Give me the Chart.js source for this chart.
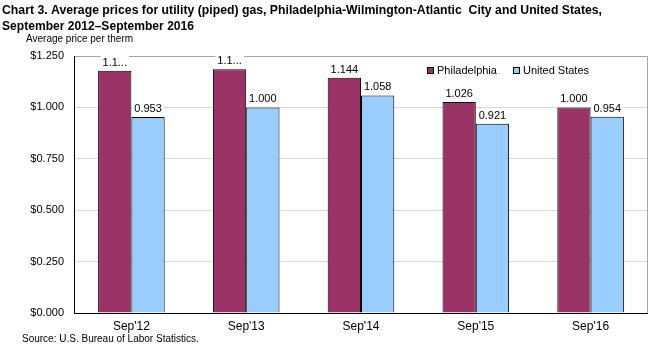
<!DOCTYPE html>
<html>
<head>
<meta charset="utf-8">
<title>Utility (piped) gas prices</title>
<script src="https://cdn.jsdelivr.net/npm/chart.js@4/dist/chart.umd.min.js"></script>
<style>
    html, body { margin: 0; padding: 0; background: #fff; }
    #gasChart { display: block; }
</style>
</head>
<body>
<canvas id="gasChart" width="650" height="348"></canvas>
<script>
const FONT = '"Liberation Sans", Arial, sans-serif';

const titleLines = [
    'Chart 3. Average prices for utility (piped) gas, Philadelphia-Wilmington-Atlantic  City and United States,',
    'September 2012\u2013September 2016'
];
const axisTitle = 'Average price per therm';
const sourceNote = 'Source: U.S. Bureau of Labor Statistics.';

const categories = ["Sep'12", "Sep'13", "Sep'14", "Sep'15", "Sep'16"];
const philadelphia = [1.178, 1.185, 1.144, 1.026, 1.000];
const unitedStates = [0.953, 1.000, 1.058, 0.921, 0.954];
// labels that got cut short on the published chart
const philadelphiaClipped = [0, 1];
const yTicks = [0, 0.25, 0.5, 0.75, 1.0, 1.25];

function valueText(datasetIndex, i, v) {
    const txt = v.toFixed(3);
    if (datasetIndex === 0 && philadelphiaClipped.includes(i)) return txt.slice(0, 3) + '...';
    return txt;
}

// titles, source line, plot frame, bar values and legend
const decorations = {
    id: 'decorations',
    beforeDraw(chart) {
        const ctx = chart.ctx;
        ctx.save();
        ctx.fillStyle = '#fff';
        ctx.fillRect(0, 0, chart.width, chart.height);
        ctx.restore();
    },
    afterDatasetsDraw(chart) {
        const ctx = chart.ctx;
        const area = chart.chartArea;
        ctx.save();

        // frame round the plot area
        ctx.lineWidth = 1;
        ctx.strokeStyle = '#a6a6a6';
        ctx.beginPath();
        ctx.moveTo(area.left, area.top + 0.5);
        ctx.lineTo(area.right - 0.5, area.top + 0.5);
        ctx.lineTo(area.right - 0.5, area.bottom);
        ctx.stroke();
        ctx.strokeStyle = '#000';
        ctx.beginPath();
        ctx.moveTo(area.left + 0.5, area.top);
        ctx.lineTo(area.left + 0.5, area.bottom + 0.5);
        ctx.lineTo(area.right, area.bottom + 0.5);
        ctx.stroke();

        // value labels on a white patch, above each bar
        ctx.font = '11px ' + FONT;
        ctx.textAlign = 'center';
        ctx.textBaseline = 'alphabetic';
        chart.data.datasets.forEach((ds, di) => {
            chart.getDatasetMeta(di).data.forEach((bar, i) => {
                const txt = valueText(di, i, ds.data[i]);
                const w = ctx.measureText(txt).width;
                const base = bar.y - 5;
                ctx.fillStyle = '#fff';
                ctx.fillRect(bar.x - w / 2 - 2, base - 10, w + 4, 12);
                ctx.fillStyle = '#000';
                ctx.fillText(txt, bar.x, base);
            });
        });

        // legend inside the top right of the plot
        const legendX = [427, 513];
        ctx.textAlign = 'left';
        ctx.textBaseline = 'middle';
        ctx.font = '11px ' + FONT;
        chart.data.datasets.forEach((ds, di) => {
            const x = legendX[di];
            const y = area.top + 14;
            ctx.fillStyle = ds.backgroundColor;
            ctx.fillRect(x, y - 3, 6, 6);
            ctx.strokeStyle = '#000';
            ctx.lineWidth = 1;
            ctx.strokeRect(x + 0.5, y - 2.5, 6, 6);
            ctx.fillStyle = '#000';
            ctx.fillText(ds.label, x + 10, y + 0.5);
        });

        // headings and source
        ctx.textBaseline = 'alphabetic';
        ctx.font = 'bold 13px ' + FONT;
        ctx.fillText(titleLines[0], 2, 14, 600);
        ctx.fillText(titleLines[1], 2, 30, 192);
        ctx.font = '10px ' + FONT;
        ctx.fillText(axisTitle, 26, 42);
        ctx.fillText(sourceNote, 22, 342);
        ctx.restore();
    }
};

new Chart(document.getElementById('gasChart'), {
    type: 'bar',
    data: {
        labels: categories,
        datasets: [{
            label: 'Philadelphia',
            data: philadelphia,
            backgroundColor: '#993366',
            borderColor: '#000',
            borderWidth: 1
        }, {
            label: 'United States',
            data: unitedStates,
            backgroundColor: '#99ccff',
            borderColor: '#000',
            borderWidth: 1
        }]
    },
    options: {
        responsive: false,
        animation: false,
        layout: { padding: { top: 56, right: 2, left: 0, bottom: 0 } },
        datasets: { bar: { categoryPercentage: 0.58, barPercentage: 1 } },
        scales: {
            x: {
                grid: { display: false, drawTicks: false },
                border: { display: false },
                ticks: { color: '#000', font: { family: FONT, size: 12 }, padding: 6 },
                afterFit: s => { s.height = 35; }
            },
            y: {
                min: 0,
                max: 1.25,
                afterBuildTicks: s => { s.ticks = yTicks.map(v => ({ value: v })); },
                grid: { color: '#d9d9d9', drawTicks: false },
                border: { display: false },
                ticks: {
                    color: '#000',
                    font: { family: FONT, size: 11 },
                    padding: 10,
                    callback: v => '$' + Number(v).toFixed(3)
                },
                afterFit: s => { s.width = 74; }
            }
        },
        plugins: {
            legend: { display: false },
            tooltip: { enabled: false }
        }
    },
    plugins: [decorations]
});
</script>
</body>
</html>
